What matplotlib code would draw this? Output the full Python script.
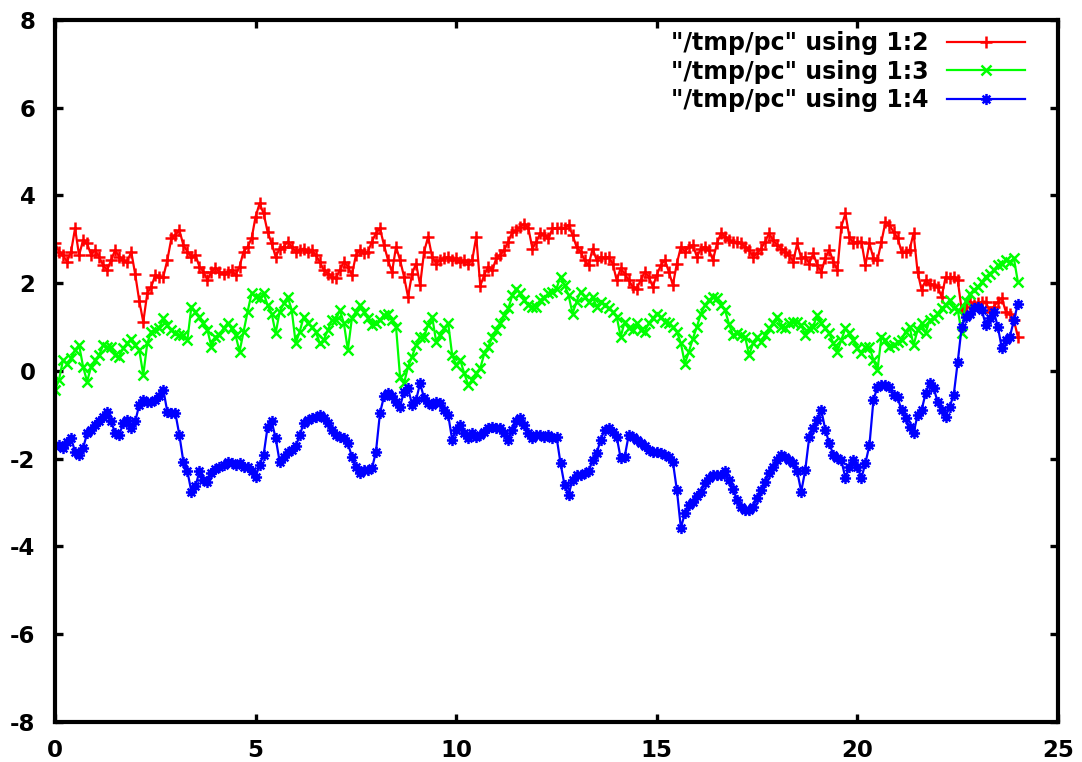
import numpy as np
import matplotlib
matplotlib.use("Agg")
import matplotlib.pyplot as plt
from matplotlib.path import Path

plt.rcParams['font.family'] = ['DejaVu Sans']
plt.rcParams['font.weight'] = 'bold'
plt.rcParams['axes.unicode_minus'] = False

labels = ['"/tmp/pc" using 1:2', '"/tmp/pc" using 1:3', '"/tmp/pc" using 1:4']

red = [2.91, 2.72, 2.64, 2.49, 2.72, 3.25, 2.64, 2.98, 2.91, 2.64,
       2.76, 2.6, 2.41, 2.3, 2.53, 2.76, 2.6, 2.53, 2.49, 2.72,
       2.2, 1.6, 1.12, 1.77, 1.92, 2.19, 2.15, 2.15, 2.53, 3.02,
       3.1, 3.21, 2.87, 2.72, 2.6, 2.64, 2.38, 2.26, 2.07, 2.26,
       2.34, 2.26, 2.22, 2.26, 2.3, 2.19, 2.38, 2.72, 2.83, 3.02,
       3.52, 3.82, 3.59, 3.17, 2.91, 2.6, 2.79, 2.83, 2.95, 2.83,
       2.72, 2.76, 2.79, 2.72, 2.76, 2.64, 2.49, 2.3, 2.22, 2.15,
       2.11, 2.3, 2.49, 2.38, 2.19, 2.64, 2.76, 2.68, 2.72, 2.95,
       3.14, 3.25, 2.87, 2.53, 2.25, 2.83, 2.53, 2.15, 1.69, 2.22,
       2.45, 1.96, 2.72, 3.06, 2.6, 2.45, 2.53, 2.57, 2.6, 2.53,
       2.57, 2.49, 2.53, 2.45, 2.53, 3.06, 1.94, 2.19, 2.38, 2.3,
       2.57, 2.64, 2.76, 2.95, 3.17, 3.21, 3.29, 3.36, 3.25, 2.79,
       2.95, 3.14, 3.1, 3.02, 3.25, 3.25, 3.27, 3.25, 3.33, 3.1,
       2.83, 2.72, 2.53, 2.41, 2.79, 2.53, 2.6, 2.57, 2.6, 2.45,
       2.07, 2.34, 2.22, 2.07, 1.92, 1.88, 2.07, 2.26, 2.15, 1.92,
       2.19, 2.41, 2.53, 2.26, 1.96, 2.45, 2.83, 2.72, 2.83, 2.87,
       2.6, 2.79, 2.83, 2.76, 2.53, 2.91, 3.14, 3.06, 2.98, 2.93,
       2.95, 2.91, 2.83, 2.76, 2.6, 2.68, 2.79, 2.95, 3.14, 2.98,
       2.87, 2.79, 2.72, 2.64, 2.49, 2.91, 2.57, 2.6, 2.45, 2.68,
       2.41, 2.26, 2.57, 2.76, 2.49, 2.3, 3.29, 3.59, 3.06, 2.91,
       2.95, 2.95, 2.41, 2.91, 2.57, 2.53, 2.95, 3.4, 3.33, 3.17,
       3.04, 2.72, 2.72, 2.76, 3.14, 2.26, 1.85, 2.07, 1.99, 1.96,
       1.92, 1.69, 2.15, 2.11, 2.15, 2.07, 1.39, 1.47, 1.58, 1.5,
       1.54, 1.58, 1.58, 1.35, 1.47, 1.58, 1.66, 1.35, 1.31, 1.16, 0.78]

green = [-0.43, -0.2, 0.25, 0.17, 0.29, 0.48, 0.59, 0.1, -0.24, 0.1,
         0.25, 0.36, 0.59, 0.55, 0.55, 0.36, 0.33, 0.52, 0.63, 0.74,
         0.59, 0.48, -0.09, 0.63, 0.9, 0.93, 0.97, 1.2, 1.05, 0.93,
         0.86, 0.82, 0.82, 0.71, 1.47, 1.35, 1.24, 1.09, 0.93, 0.55,
         0.78, 0.82, 0.97, 1.09, 0.97, 0.82, 0.44, 0.9, 1.35, 1.77,
         1.69, 1.66, 1.77, 1.5, 1.31, 0.86, 1.35, 1.54, 1.69, 1.39,
         0.63, 0.9, 1.24, 1.09, 1.01, 0.9, 0.63, 0.71, 0.93, 1.16,
         1.16, 1.39, 1.09, 0.48, 1.2, 1.35, 1.5, 1.35, 1.2, 1.05,
         1.09, 1.16, 1.28, 1.31, 1.16, 1.01, -0.13, -0.28, 0.1, 0.33,
         0.59, 0.78, 0.78, 1.05, 1.24, 0.67, 0.82, 0.97, 1.09, 0.36,
         0.14, 0.25, -0.05, -0.32, -0.2, -0.05, 0.06, 0.4, 0.55, 0.78,
         0.93, 1.09, 1.28, 1.43, 1.73, 1.88, 1.77, 1.62, 1.5, 1.47,
         1.47, 1.62, 1.66, 1.77, 1.81, 1.88, 2.15, 1.96, 1.73, 1.31,
         1.58, 1.81, 1.69, 1.58, 1.69, 1.47, 1.58, 1.5, 1.43, 1.35,
         1.24, 0.78, 1.12, 0.97, 0.93, 1.09, 0.93, 0.9, 1.09, 1.2,
         1.31, 1.24, 1.12, 1.09, 1.01, 0.9, 0.63, 0.17, 0.44, 0.74,
         1.01, 1.31, 1.5, 1.62, 1.69, 1.66, 1.5, 1.39, 1.07, 0.82,
         0.86, 0.82, 0.78, 0.36, 0.63, 0.78, 0.67, 0.82, 0.97, 1.09,
         1.24, 1.01, 0.97, 1.09, 1.12, 1.12, 1.05, 0.82, 0.97, 1.01,
         1.28, 1.09, 0.97, 0.86, 0.63, 0.44, 0.71, 0.97, 0.86, 0.71,
         0.52, 0.4, 0.55, 0.55, 0.25, 0.02, 0.78, 0.71, 0.55, 0.59,
         0.65, 0.71, 0.9, 1.01, 0.59, 0.93, 1.09, 0.86, 1.16, 1.2,
         1.31, 1.43, 1.5, 1.62, 1.43, 1.4, 0.86, 1.6, 1.75, 1.85,
         1.92, 2.03, 2.15, 2.22, 2.3, 2.41, 2.45, 2.53, 2.49, 2.57, 2.03]

blue = [-1.72, -1.69, -1.76, -1.61, -1.53, -1.84, -1.91, -1.76, -1.42, -1.34,
        -1.23, -1.15, -1.04, -0.93, -1.15, -1.42, -1.46, -1.19, -1.12, -1.31,
        -1.15, -0.77, -0.66, -0.7, -0.7, -0.66, -0.58, -0.43, -0.93, -0.96,
        -0.96, -1.46, -2.07, -2.29, -2.75, -2.63, -2.29, -2.48, -2.52, -2.33,
        -2.24, -2.18, -2.14, -2.07, -2.1, -2.14, -2.1, -2.18, -2.18, -2.29,
        -2.41, -2.14, -1.91, -1.27, -1.15, -1.53, -2.07, -1.95, -1.84, -1.8,
        -1.72, -1.46, -1.19, -1.12, -1.08, -1.04, -1.0, -1.08, -1.19, -1.34,
        -1.46, -1.5, -1.53, -1.65, -1.95, -2.18, -2.33, -2.26, -2.26, -2.22,
        -1.84, -0.96, -0.58, -0.51, -0.56, -0.7, -0.81, -0.47, -0.39, -0.77,
        -0.66, -0.28, -0.62, -0.74, -0.77, -0.7, -0.74, -0.89, -1.0, -1.57,
        -1.34, -1.23, -1.42, -1.53, -1.42, -1.5, -1.46, -1.38, -1.31, -1.27,
        -1.31, -1.31, -1.42, -1.57, -1.34, -1.15, -1.08, -1.23, -1.42, -1.53,
        -1.46, -1.46, -1.5, -1.46, -1.53, -1.5, -2.1, -2.6, -2.82, -2.48,
        -2.37, -2.37, -2.33, -2.29, -2.03, -1.88, -1.57, -1.34, -1.31, -1.38,
        -1.5, -1.99, -1.95, -1.46, -1.5, -1.57, -1.65, -1.72, -1.8, -1.84,
        -1.84, -1.88, -1.91, -1.95, -2.07, -2.71, -3.58, -3.24, -3.05, -2.98,
        -2.86, -2.75, -2.56, -2.44, -2.37, -2.37, -2.37, -2.29, -2.48, -2.69,
        -2.94, -3.09, -3.17, -3.17, -3.09, -2.9, -2.71, -2.52, -2.33, -2.18,
        -2.03, -1.91, -1.95, -2.03, -2.1, -2.29, -2.75, -2.26, -1.5, -1.31,
        -1.12, -0.89, -1.34, -1.65, -1.91, -1.99, -2.03, -2.44, -2.18, -2.03,
        -2.18, -2.44, -2.1, -1.69, -0.66, -0.36, -0.32, -0.32, -0.36, -0.55,
        -0.6, -0.89, -1.08, -1.27, -1.42, -1.0, -0.89, -0.51, -0.28, -0.39,
        -0.7, -0.89, -1.04, -0.81, -0.55, 0.2, 1.01, 1.24, 1.31, 1.43,
        1.47, 1.39, 1.05, 1.2, 1.35, 1.01, 0.52, 0.71, 0.78, 1.16, 1.53]

x_step = 0.1
n = len(red)
assert len(green) == n and len(blue) == n
x = np.arange(n) * x_step

xticks = [0, 5, 10, 15, 20, 25]
yticks = [-8, -6, -4, -2, 0, 2, 4, 6, 8]

# gnuplot-style asterisk marker (+ and x combined)
star = Path([(-1, 0), (1, 0), (0, -1), (0, 1), (-0.7, -0.7), (0.7, 0.7), (-0.7, 0.7), (0.7, -0.7)],
            [Path.MOVETO, Path.LINETO] * 4)

W, H = 1082, 762
L, R, T, B = 55, 1058, 20, 722
fig = plt.figure(figsize=(W / 100, H / 100), dpi=100)
ax = fig.add_axes([L / W, 1 - B / H, (R - L) / W, (B - T) / H])

lw = 1.6
ax.plot(x, red, color='#ff0000', lw=lw, marker='+', ms=8, mew=1.8, label=labels[0])
ax.plot(x, green, color='#00ff00', lw=lw, marker='x', ms=7, mew=1.8, label=labels[1])
ax.plot(x, blue, color='#0000ff', lw=lw, marker=star, ms=8, mew=1.8, label=labels[2])

ax.set_xlim(0, 25)
ax.set_ylim(-8, 8)
ax.set_xticks(xticks)
ax.set_yticks(yticks)
ax.tick_params(direction='in', length=6, width=2.4, top=True, right=True,
               labelsize=16.5)
ax.tick_params(axis='y', pad=14)
ax.tick_params(axis='x', pad=12)
for s in ax.spines.values():
    s.set_linewidth(3)

leg_fs = 17
leg = ax.legend(loc='upper right', frameon=False, markerfirst=False, numpoints=1,
                fontsize=leg_fs, handlelength=3.3, handletextpad=0.8, labelspacing=0.2,
                borderaxespad=0, borderpad=0,
                bbox_to_anchor=((1025 - L) / (R - L), (B - 31) / (B - T)))
for t in leg.get_texts():
    t.set_ha('right')

fig.savefig('out.png', dpi=100)
